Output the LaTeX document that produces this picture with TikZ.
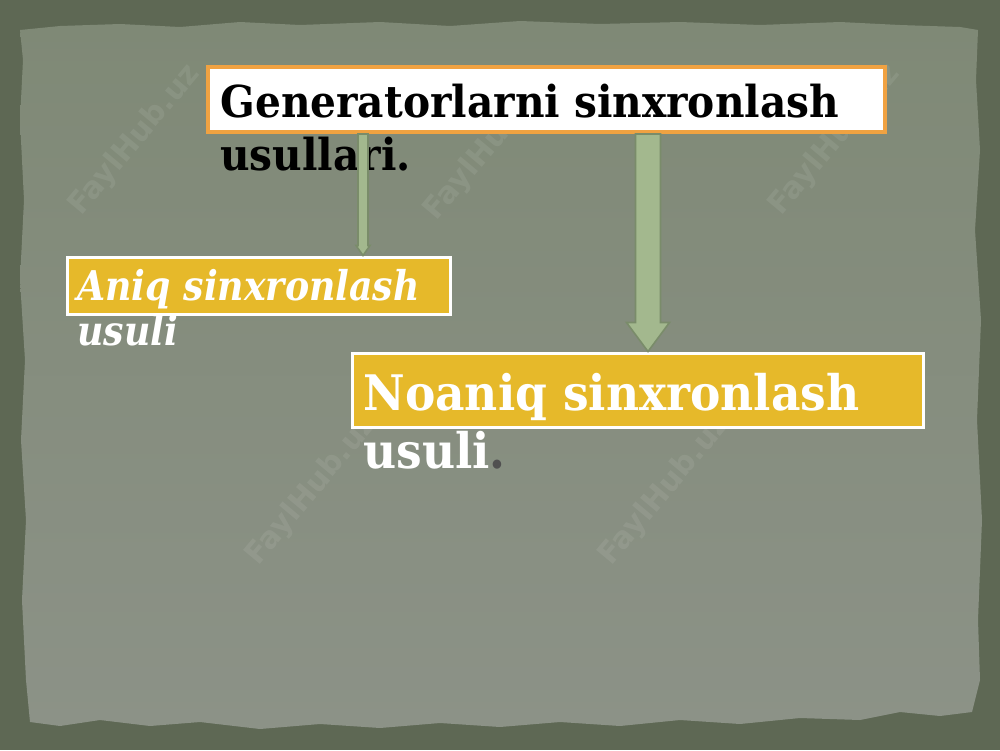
\documentclass[tikz,border=0pt]{standalone}
\usepackage{fontspec}
\setmainfont{DejaVu Serif}
\newfontfamily\topfont[FakeStretch=0.925]{DejaVu Serif}
\newfontfamily\leftfont[FakeStretch=0.885]{DejaVu Serif}
\newfontfamily\rightfont[FakeStretch=0.93]{DejaVu Serif}
\newfontfamily\wmfont{DejaVu Sans}
\usetikzlibrary{calc,shadows}
\definecolor{frame}{RGB}{94,104,84}
\definecolor{paper}{RGB}{140,146,135}
\definecolor{papertop}{RGB}{127,137,118}
\definecolor{gold}{RGB}{230,185,42}
\definecolor{orangeb}{RGB}{240,162,66}
\definecolor{arrowfill}{RGB}{163,184,142}
\definecolor{arrowedge}{RGB}{122,140,106}
\definecolor{dotgray}{RGB}{80,80,80}
\tikzset{
  topbox/.style={draw=orangeb, line width=2pt, fill=white, inner sep=0pt},
  goldbox/.style={draw=white, line width=1.5pt, fill=gold, inner sep=0pt,
    drop shadow={opacity=0.35, shadow xshift=0.8pt, shadow yshift=-0.8pt}},
  toptext/.style={anchor=base west, inner sep=0pt, font=\topfont\fontsize{22}{26}\selectfont\bfseries, text=black},
  lefttext/.style={anchor=base west, inner sep=0pt, font=\leftfont\fontsize{20.5}{25}\selectfont\bfseries\itshape, text=white},
  righttext/.style={anchor=base west, inner sep=0pt, font=\rightfont\fontsize{24.5}{29}\selectfont\bfseries, text=white},
  blockarrow/.style={fill=arrowfill, draw=arrowedge, line width=0.8pt, line join=miter},
  wm/.style={rotate=50, font=\wmfont\fontsize{15}{18}\selectfont\bfseries, text=white, text opacity=0.08}
}
\begin{document}
\begin{tikzpicture}[x=0.5pt,y=-0.5pt]
\useasboundingbox (0,0) rectangle (1000,750);
% background frame and paper
\fill[frame] (0,0) rectangle (1000,750);
\shade[top color=papertop, bottom color=paper]
  (20,30) -- (60,26) -- (120,24) -- (180,27) -- (240,22) -- (300,25) -- (380,22) -- (450,26) -- (520,21) -- (600,24) -- (680,22) -- (760,25) -- (840,22) -- (900,25) -- (960,27) -- (978,30)
  -- (976,80) -- (980,150) -- (975,230) -- (981,320) -- (977,420) -- (982,520) -- (978,620) -- (980,680) -- (972,712)
  -- (940,716) -- (900,712) -- (860,720) -- (800,718) -- (740,724) -- (680,720) -- (620,726) -- (560,722) -- (500,727) -- (440,723) -- (380,728) -- (320,724) -- (260,729) -- (200,722) -- (150,726) -- (100,720) -- (60,726) -- (30,722)
  -- (26,680) -- (22,600) -- (26,520) -- (21,440) -- (25,360) -- (20,280) -- (24,200) -- (20,120) -- (23,60) -- cycle;

% watermarks
\node[wm] (w1) at (135,140) {FaylHub.uz};
\node[wm] (w2) at (490,145) {FaylHub.uz};
\node[wm] (w3) at (835,140) {FaylHub.uz};
\node[wm] (w4) at (312,490) {FaylHub.uz};
\node[wm] (w5) at (665,490) {FaylHub.uz};

% boxes
\node[topbox, minimum width=338.5pt, minimum height=32.5pt] (top) at (546.5,99.5) {};
\node[goldbox, minimum width=191.5pt, minimum height=28.5pt] (left) at (258.5,285.5) {};
\node[goldbox, minimum width=285.5pt, minimum height=37pt] (right) at (637.5,390) {};

% texts
\node[toptext] (t1) at (220,117) {Generatorlarni sinxronlash};
\node[toptext] (t1b) at (220,170) {usullari.};
\node[lefttext] (t2) at (77,300) {Aniq sinxronlash};
\node[lefttext] (t2b) at (77,345) {usuli};
\node[righttext] (t3) at (363,410) {Noaniq sinxronlash};
\node[righttext] (t3b) at (363,468) {usuli\textcolor{dotgray}{.}};

% arrows
\coordinate (lx) at (363,0);
\coordinate (rx) at (648,0);
\coordinate (la) at (lx |- top.south);
\coordinate (lb) at (lx |- left.north);
\coordinate (ra) at (rx |- top.south);
\coordinate (rb) at (rx |- right.north);
\draw[blockarrow] ($(la)+(-5,0)$) -- ($(lb)+(-5,-10)$) -- ($(lb)+(-7,-10)$) -- (lb)
  -- ($(lb)+(7,-10)$) -- ($(lb)+(5,-10)$) -- ($(la)+(5,0)$) -- cycle;
\draw[blockarrow] ($(ra)+(-12.5,0)$) -- ($(rb)+(-12.5,-29)$) -- ($(rb)+(-21.5,-29)$) -- (rb)
  -- ($(rb)+(21.5,-29)$) -- ($(rb)+(12.5,-29)$) -- ($(ra)+(12.5,0)$) -- cycle;
\end{tikzpicture}
\end{document}
